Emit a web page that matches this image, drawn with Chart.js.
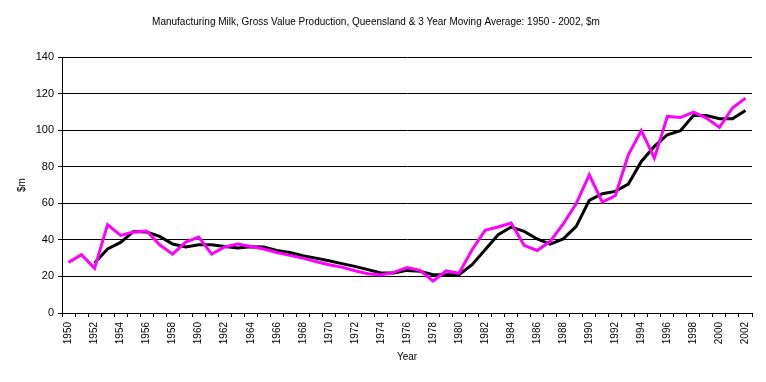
<!DOCTYPE html>
<html><head><meta charset="utf-8">
<script src="https://cdn.jsdelivr.net/npm/chart.js@4/dist/chart.umd.min.js"></script>
<style>html,body{margin:0;padding:0;background:#fff}#wrap{width:766px;height:382px}</style>
</head><body><div id="wrap"><canvas id="c" width="766" height="382"></canvas></div>
<script>
const years = [];
for (let y = 1950; y <= 2002; y++) years.push(String(y));
const annual = [27.7,31.9,24.4,48.3,42.4,44.3,44.8,37.3,32.2,38.8,41.5,32.2,36.1,37.7,36.4,35.0,33.1,31.5,30.0,28.2,26.4,25.1,23.1,21.5,20.8,22.2,24.9,23.3,17.5,23.0,21.7,34.6,45.2,47.0,49.2,37.0,34.2,39.2,48.7,59.8,75.6,60.7,64.1,86.5,99.8,84.7,107.5,106.9,109.9,106.6,101.5,112.1,117.5];
const movingAvg = [null,null,27.3,35.0,38.6,44.6,44.3,41.9,37.7,36.1,37.3,37.3,36.4,35.5,36.2,36.1,34.2,33.1,31.3,30.0,28.6,27.0,25.5,23.7,21.9,21.9,23.3,22.8,20.9,20.9,20.9,26.4,34.6,42.8,47.0,44.6,40.5,37.7,40.5,47.4,61.6,65.2,66.5,70.5,82.9,91.1,97.5,99.7,108.0,108.0,106.2,106.2,110.8];
const yTicks = [0,20,40,60,80,100,120,140];

const font = {family: "Liberation Sans, Arial, sans-serif", size: 10};
new Chart(document.getElementById('c'), {
  type: 'line',
  data: {labels: years, datasets: [
    {label: 'Annual', data: annual, borderColor: '#FF00FF', borderWidth: 3, pointRadius: 0, tension: 0, fill: false},
    {label: '3 Year Moving Average', data: movingAvg, borderColor: '#000000', borderWidth: 3, pointRadius: 0, tension: 0, fill: false, spanGaps: false}
  ]},
  options: {
    responsive: false, animation: false,
    layout: {padding: {left: 0, right: 14, top: 0, bottom: 0}},
    plugins: {
      legend: {display: false},
      tooltip: {enabled: false},
      title: {display: true, text: 'Manufacturing Milk, Gross Value Production, Queensland & 3 Year Moving Average: 1950 - 2002, $m',
        color: '#000', font: {family: font.family, size: 10, weight: 'normal'}, padding: {top: 16, bottom: 29}}
    },
    scales: {
      x: {
        type: 'category', offset: true,
        grid: {display: true, drawOnChartArea: false, drawTicks: true, tickLength: 4, color: '#000', offset: true},
        border: {display: true, color: '#000', width: 1},
        ticks: {color: '#000', font: font, minRotation: 90, maxRotation: 90, autoSkip: false, padding: 5,
          callback: function(v, i) { return i % 2 === 0 ? years[i] : ''; }},
        title: {display: true, text: 'Year', color: '#000', font: font, padding: {top: 2, bottom: 19}},
        afterFit: function(s) { s.height = 69; }
      },
      y: {
        min: 0, max: 140,
        afterBuildTicks: function(s) { s.ticks = yTicks.map(v => ({value: v})); },
        grid: {color: '#000', lineWidth: 1, drawTicks: true, tickLength: 4},
        border: {display: true, color: '#000', width: 1},
        ticks: {color: '#000', font: {family: font.family, size: 11}, padding: 4},
        title: {display: true, text: '$m', color: '#000', font: font, padding: {top: 16, bottom: 8}},
        afterFit: function(s) { s.width = 62; }
      }
    }
  }
});
</script></body></html>
